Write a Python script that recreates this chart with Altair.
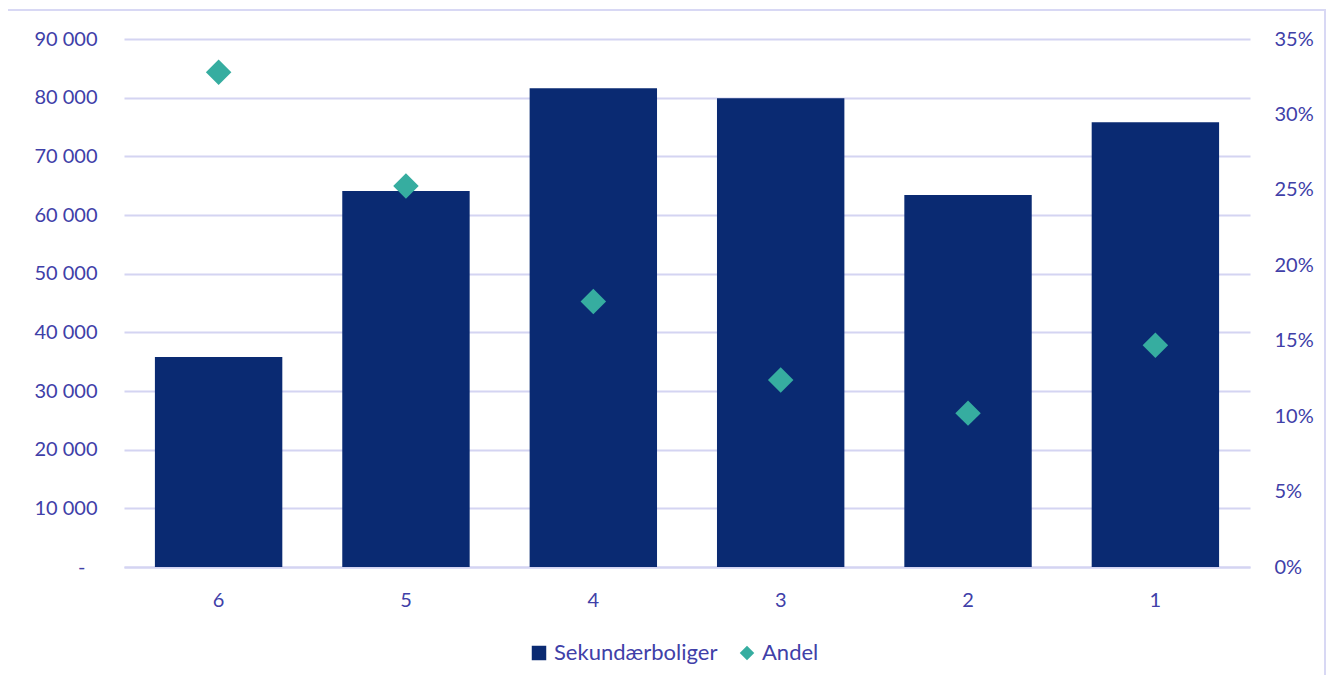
import altair as alt
import pandas as pd

categories = ["6", "5", "4", "3", "2", "1"]
sekundaerboliger = [35800, 64100, 81600, 79900, 63400, 75800]
andel = [0.328, 0.2525, 0.176, 0.124, 0.102, 0.147]
series_names = ["Sekundærboliger", "Andel"]
series_colors = ["#0a2a72", "#36ada0"]
series_shapes = ["square", "diamond"]
left_ticks = [0, 10000, 20000, 30000, 40000, 50000, 60000, 70000, 80000, 90000]
right_ticks = [0, 0.05, 0.10, 0.15, 0.20, 0.25, 0.30, 0.35]

TXT = "#4040a8"
GRID = "#d4d4f2"
FONT = "Lato"

df = pd.DataFrame({"kategori": categories, "verdi": sekundaerboliger, "andel": andel})

color_scale = alt.Scale(domain=series_names, range=series_colors)
shape_scale = alt.Scale(domain=series_names, range=series_shapes)
legend = alt.Legend(title=None, orient="none", legendX=404, legendY=603,
                    direction="horizontal", labelFontSize=22, labelColor=TXT,
                    labelFont=FONT, symbolSize=210, columnPadding=18,
                    symbolStrokeWidth=0, labelOffset=4, labelLimit=400)

x_enc = alt.X("kategori:N", sort=categories,
              scale=alt.Scale(paddingInner=0.32, paddingOuter=0.165),
              axis=alt.Axis(title=None, labelAngle=0, ticks=False, domain=True,
                            domainColor=GRID, domainWidth=2, labelPadding=23,
                            labelFontSize=20, labelColor=TXT, labelFont=FONT))

bars = alt.Chart(df).transform_calculate(serie="'Sekundærboliger'").mark_bar(
    color="#0a2a72").encode(
    x=x_enc,
    y=alt.Y("verdi:Q", scale=alt.Scale(domain=[0, 90000], nice=False),
            axis=alt.Axis(title=None, values=left_ticks, grid=True, gridColor=GRID,
                          gridWidth=2, domain=False, ticks=False,
                          labelPadding={"condition": {"test": "datum.value == 0", "value": 39}, "value": 27},
                          labelFontSize=20, labelColor=TXT, labelFont=FONT,
                          labelExpr="datum.value == 0 ? '-' : replace(format(datum.value, ',d'), ',', ' ')")),
    color=alt.Color("serie:N", scale=color_scale, legend=legend),
)

points = alt.Chart(df).transform_calculate(serie="'Andel'").mark_point(
    filled=True, size=650, opacity=1).encode(
    x=alt.X("kategori:N", sort=categories),
    y=alt.Y("andel:Q", scale=alt.Scale(domain=[0, 0.35], nice=False),
            axis=alt.Axis(title=None, orient="right", values=right_ticks, grid=False,
                          domain=False, ticks=False, labelPadding=24, format=".0%",
                          labelFontSize=20, labelColor=TXT, labelFont=FONT)),
    color=alt.Color("serie:N", scale=color_scale, legend=legend),
    shape=alt.Shape("serie:N", scale=shape_scale, legend=legend),
)

border = alt.Chart(pd.DataFrame({"b": [0]})).mark_rect(
    filled=False, stroke="#d8d8f4", strokeWidth=2).encode(
    x=alt.value(-117), x2=alt.value(1201), y=alt.value(-29), y2=alt.value(700))

chart = alt.layer(bars, points, border).resolve_scale(y="independent").properties(
    width=1126, height=528,
    padding={"left": 116, "top": 31, "right": 76, "bottom": 108},
    autosize=alt.AutoSizeParams(type="none"),
).configure_view(stroke=None)

chart.save("out.html", embed_options={"renderer": "svg", "actions": False})
